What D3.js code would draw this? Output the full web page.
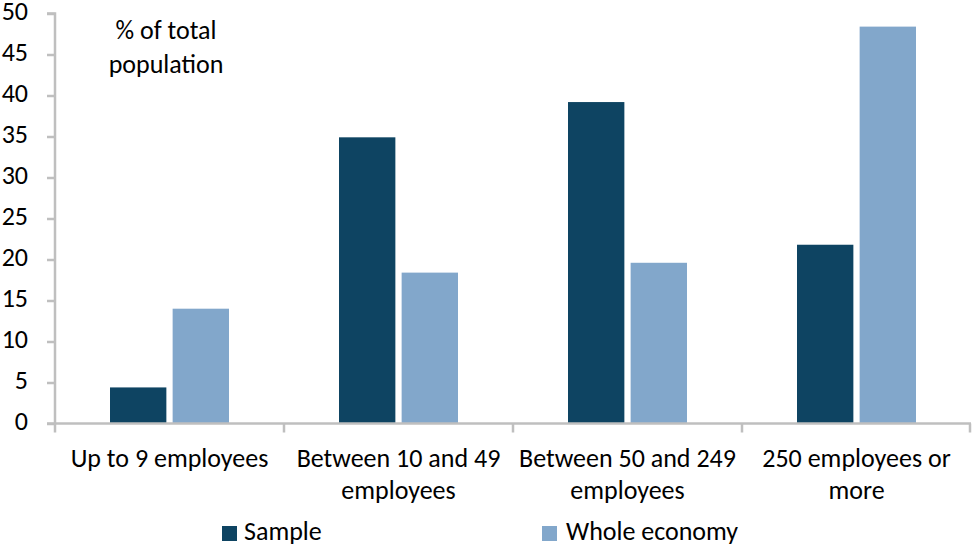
<!DOCTYPE html>
<html><head><meta charset="utf-8">
<script src="https://cdn.jsdelivr.net/npm/d3@7"></script>
<style>body{margin:0;background:#fff}svg{display:block}text{font-family:Carlito,"Open Sans",sans-serif;fill:#000}</style>
</head><body><svg id="c" width="973" height="546"></svg>
<script>
const categories = [["Up to 9 employees"],["Between 10 and 49","employees"],["Between 50 and 249","employees"],["250 employees or","more"]];
const seriesNames = ["Sample","Whole economy"];
const sample = [4.4, 34.9, 39.2, 21.8];
const wholeEconomy = [14.0, 18.4, 19.6, 48.4];
const yTicks = [0,5,10,15,20,25,30,35,40,45,50];
const colors = ["#0E4462","#82A7CB"];

const FS = 26;
const svg = d3.select("#c");
const pLeft = 55, pRight = 971, pTop = 13.5, pBottom = 423.5;
const x = d3.scaleBand().domain(d3.range(categories.length)).range([pLeft, pRight]).paddingInner(0).paddingOuter(0);
const y = d3.scaleLinear().domain([0,50]).range([pBottom, pTop]);
const xs = d3.scaleBand().domain([0,1]).range([0, 119]).paddingInner(0.1);
const axisColor = "#BFBFBF";

const data = [sample, wholeEconomy];
categories.forEach((c,i)=>{
  const g = svg.append("g").attr("transform",`translate(${x(i)+x.bandwidth()/2-59.5},0)`);
  data.forEach((s,k)=>{
    g.append("rect").attr("x", xs(k)).attr("width", xs.bandwidth())
     .attr("y", y(s[i])).attr("height", y(0)-y(s[i])).attr("fill", colors[k]);
  });
});

// y axis
const ya = svg.append("g").attr("transform",`translate(${pLeft},0)`)
  .call(d3.axisLeft(y).tickValues(yTicks).tickSize(8).tickPadding(19));
ya.select(".domain").attr("stroke",axisColor).attr("stroke-width",2.5).attr("d",`M-8,${pTop}H0V${pBottom}`);
ya.selectAll(".tick line").attr("stroke",axisColor).attr("stroke-width",2.5);
ya.selectAll(".tick text").attr("font-size",FS).attr("font-family",null).attr("dy","0.24em").style("fill","#000");

// x axis
const xa = svg.append("g").attr("transform",`translate(0,${pBottom})`);
xa.append("line").attr("x1",pLeft-8).attr("x2",pRight).attr("stroke",axisColor).attr("stroke-width",2.5);
d3.range(categories.length+1).forEach(i=>{
  const px = i<categories.length ? x(i) : pRight-1;
  xa.append("line").attr("x1",px).attr("x2",px).attr("y1",0).attr("y2",9).attr("stroke",axisColor).attr("stroke-width",2.5);
});
categories.forEach((c,i)=>{
  const t = xa.append("text").attr("text-anchor","middle").attr("font-size",FS)
    .attr("transform",`translate(${x(i)+x.bandwidth()/2},0)`);
  c.forEach((line,j)=>t.append("tspan").attr("x",0).attr("y",43+j*32).text(line));
});

// annotation
const ann = svg.append("text").attr("text-anchor","middle").attr("font-size",FS);
ann.append("tspan").attr("x",166).attr("y",39).text("% of total");
ann.append("tspan").attr("x",166).attr("y",73).text("population");

// legend
const legX = [222, 542];
const legTX = [244, 566];
seriesNames.forEach((n,k)=>{
  svg.append("rect").attr("x",legX[k]).attr("y",526).attr("width",15).attr("height",15).attr("fill",colors[k]);
  svg.append("text").attr("x",legTX[k]).attr("y",540).attr("font-size",FS).text(n);
});
</script></body></html>
